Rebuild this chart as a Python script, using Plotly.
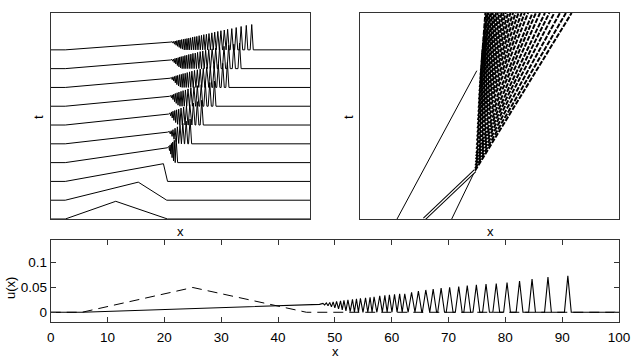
import plotly.graph_objects as go

# ---------------- data ----------------
x_ticks = [0, 10, 20, 30, 40, 50, 60, 70, 80, 90, 100]
u_ticks = [0, 0.05, 0.1]
u_tick_text = ["0", "0.05", "0.1"]

ramp_start = 5.5

# initial condition (dashed, bottom) and first stacked profile
init_x = [0, 5.5, 25, 45, 100]
init_u = [0, 0, 0.05, 0, 0]

prof1_x = [0, 5.5, 33.7, 44.7, 100]
prof1_u = [0, 0, 0.051, 0, 0]
prof2_x = [0, 5.5, 43.4, 45.0, 100]
prof2_u = [0, 0, 0.050, 0, 0]

# oscillatory profiles: ramp tip, peak positions / heights, trough heights
p3_tip = (45.0, 0.042)
p3_pk_x = [45.5, 46.0, 46.5, 47.0, 47.6, 48.3]
p3_pk_u = [0.046, 0.050, 0.054, 0.058, 0.063, 0.069]
p3_tr_u = [0.034, 0.024, 0.014, 0.005]

p4_tip = (45.0, 0.033)
p4_pk_x = [45.7, 46.4, 47.1, 47.9, 48.8, 49.8, 50.9, 52.2, 53.7]
p4_pk_u = [0.035, 0.037, 0.040, 0.044, 0.048, 0.053, 0.058, 0.064, 0.070]
p4_tr_u = [0.028, 0.021, 0.013, 0.006, 0.001]

p5_tip = (45.4, 0.031)
p5_pk_x = [45.9, 46.5, 47.1, 47.8, 48.5, 49.3, 50.2, 51.2, 52.3, 53.6, 55.0, 56.5, 58.2]
p5_pk_u = [0.034, 0.037, 0.039, 0.041, 0.043, 0.045, 0.048, 0.051, 0.054, 0.058, 0.062, 0.066, 0.070]
p5_tr_u = [0.026, 0.020, 0.013, 0.007, 0.002]

p6_tip = (45.7, 0.028)
p6_pk_x = [46.2, 46.8, 47.4, 48.0, 48.7, 49.4, 50.2, 51.0, 51.9, 52.9, 54.0, 55.2, 56.5, 58.0, 59.6, 61.3, 63.1]
p6_pk_u = [0.030, 0.032, 0.034, 0.036, 0.038, 0.040, 0.042, 0.044, 0.046, 0.049, 0.052, 0.055, 0.058, 0.061, 0.064, 0.067, 0.071]
p6_tr_u = [0.024, 0.019, 0.013, 0.008, 0.003]

p7_tip = (46.0, 0.026)
p7_pk_x = [46.5, 47.1, 47.7, 48.3, 48.9, 49.6, 50.3, 51.0, 51.8, 52.6, 53.5, 54.4, 55.4, 56.5, 57.6, 58.8, 60.1, 61.5, 63.0, 64.6, 66.3, 68.1]
p7_pk_u = [0.028, 0.030, 0.031, 0.033, 0.034, 0.036, 0.037, 0.039, 0.040, 0.042, 0.044, 0.046, 0.048, 0.050, 0.052, 0.054, 0.057, 0.059, 0.062, 0.065, 0.068, 0.071]
p7_tr_u = [0.022, 0.018, 0.013, 0.008, 0.004, 0.001]

p8_tip = (46.2, 0.0245)
p8_pk_x = [46.7, 47.3, 47.9, 48.5, 49.1, 49.7, 50.3, 51.0, 51.7, 52.4, 53.2, 54.0, 54.8, 55.7, 56.6, 57.6, 58.6, 59.7, 60.9, 62.2, 63.6, 65.1, 66.8, 68.6, 70.6, 72.8]
p8_pk_u = [0.026, 0.027, 0.029, 0.030, 0.031, 0.033, 0.034, 0.035, 0.037, 0.038, 0.040, 0.041, 0.043, 0.044, 0.046, 0.048, 0.050, 0.052, 0.054, 0.056, 0.058, 0.060, 0.063, 0.066, 0.069, 0.072]
p8_tr_u = [0.021, 0.017, 0.013, 0.009, 0.005, 0.002]

p9_tip = (46.3, 0.022)
p9_pk_x = [46.8, 47.4, 48.0, 48.6, 49.2, 49.8, 50.4, 51.1, 51.8, 52.5, 53.2, 53.9, 54.7, 55.5, 56.3, 57.2, 58.1, 59.0, 60.0, 61.0, 62.1, 63.2, 64.4, 65.6, 66.9, 68.2, 69.8, 71.5, 73.4, 75.4, 77.5]
p9_pk_u = [0.023, 0.024, 0.025, 0.026, 0.027, 0.028, 0.029, 0.030, 0.031, 0.032, 0.033, 0.034, 0.036, 0.037, 0.038, 0.040, 0.041, 0.043, 0.044, 0.046, 0.048, 0.050, 0.052, 0.054, 0.056, 0.058, 0.060, 0.063, 0.066, 0.069, 0.0715]
p9_tr_u = [0.019, 0.016, 0.013, 0.010, 0.007, 0.004, 0.002]

# final profile (bottom panel, solid)
fin_tip = (47.3, 0.016)
fin_pk_x = [47.9, 48.5, 49.1, 49.7, 50.3, 51.0, 51.6, 52.3, 53.1, 53.8, 54.5, 55.4, 56.2, 56.9, 57.9, 58.8, 59.6, 60.5, 61.4, 62.3, 63.5, 64.7, 66.0, 67.3, 68.7, 70.2, 71.8, 73.3, 74.9, 76.6, 78.4, 80.3, 82.5, 84.7, 87.5, 91.0]
fin_pk_u = [0.018, 0.019, 0.020, 0.021, 0.022, 0.023, 0.024, 0.025, 0.026, 0.027, 0.028, 0.029, 0.030, 0.031, 0.033, 0.034, 0.035, 0.036, 0.037, 0.037, 0.040, 0.0425, 0.045, 0.0466, 0.0486, 0.0506, 0.052, 0.054, 0.0553, 0.0567, 0.058, 0.060, 0.063, 0.067, 0.071, 0.0735]
fin_tr_u = [0.015, 0.013, 0.011, 0.009, 0.007, 0.005, 0.003, 0.0015, 0.0005]

# x-t diagram (top right): straight trajectories
left_line_x = [14.3, 45.1]
left_line_t = [0.0, 0.72]
right_line_x = [35.4, 44.4]
right_line_t = [0.0, 0.234]
band_x = [24.8, 44.4]
band_t = [0.0, 0.234]

fan_t0 = [0.234, 0.245, 0.26, 0.275, 0.29, 0.305, 0.32, 0.34, 0.36, 0.38, 0.40, 0.42, 0.44, 0.46, 0.48, 0.50,
          0.52, 0.54, 0.56, 0.58, 0.60, 0.62, 0.64, 0.66, 0.68, 0.70, 0.72, 0.74, 0.76, 0.78, 0.80]
fan_x0 = [44.4, 44.45, 44.55, 44.65, 44.75, 44.8, 44.9, 44.95, 45.05, 45.1, 45.2, 45.3, 45.35, 45.45, 45.5, 45.6,
          45.7, 45.75, 45.85, 45.9, 46.0, 46.1, 46.2, 46.3, 46.4, 46.5, 46.65, 46.8, 46.9, 47.05, 47.2]
fan_x1 = [81.7, 79.5, 77.2, 75.0, 73.1, 71.4, 69.5, 67.9, 66.6, 64.9, 63.6, 62.4, 61.2, 60.1, 59.1, 58.1,
          57.2, 56.3, 55.5, 54.7, 53.9, 53.2, 52.5, 51.9, 51.3, 50.7, 50.2, 49.7, 49.2, 48.8, 48.4]
fan_t1 = 1.0

# ---------------- helpers ----------------
PEAK_HALF_WIDTH = 0.6
STACK_STEP = 0.0531


def wave(tip, pk_x, pk_u, tr_u, w=PEAK_HALF_WIDTH):
    xs = [0, ramp_start, tip[0]]
    us = [0, 0, tip[1]]
    tr = list(tr_u) + [0] * len(pk_x)
    n = len(pk_x)
    for i in range(n):
        xs.append(pk_x[i])
        us.append(pk_u[i])
        if i < n - 1:
            a, b, v = pk_x[i], pk_x[i + 1], tr[i]
            if b - a > 2 * w:
                xs += [a + w, b - w]
                us += [v, v]
            else:
                xs.append((a + b) / 2)
                us.append(v)
    xs += [pk_x[-1] + w, 100]
    us += [0, 0]
    return xs, us


FONT = "Liberation Sans, Arial, sans-serif"
fig = go.Figure()

# ---- top-left stacked profiles ----
stack = [(init_x, init_u), (prof1_x, prof1_u), (prof2_x, prof2_u)]
for tip, px_, pu_, tr_ in [(p3_tip, p3_pk_x, p3_pk_u, p3_tr_u), (p4_tip, p4_pk_x, p4_pk_u, p4_tr_u),
                           (p5_tip, p5_pk_x, p5_pk_u, p5_tr_u), (p6_tip, p6_pk_x, p6_pk_u, p6_tr_u),
                           (p7_tip, p7_pk_x, p7_pk_u, p7_tr_u), (p8_tip, p8_pk_x, p8_pk_u, p8_tr_u),
                           (p9_tip, p9_pk_x, p9_pk_u, p9_tr_u)]:
    stack.append(wave(tip, px_, pu_, tr_))

for k, (xs, us) in enumerate(stack):
    fig.add_trace(go.Scatter(x=xs, y=[u + k * STACK_STEP for u in us], mode="lines",
                             line=dict(color="black", width=1), xaxis="x", yaxis="y",
                             showlegend=False, hoverinfo="skip"))

# ---- top-right x-t diagram ----
for x0, t0, x1 in zip(fan_x0, fan_t0, fan_x1):
    fig.add_trace(go.Scatter(x=[x0, x1], y=[t0, fan_t1], mode="lines",
                             line=dict(color="black", width=2, dash="5px,1.5px"),
                             xaxis="x2", yaxis="y2", showlegend=False, hoverinfo="skip"))
fig.add_trace(go.Scatter(x=left_line_x, y=left_line_t, mode="lines", line=dict(color="black", width=1),
                         xaxis="x2", yaxis="y2", showlegend=False, hoverinfo="skip"))
fig.add_trace(go.Scatter(x=right_line_x, y=right_line_t, mode="lines", line=dict(color="black", width=1),
                         xaxis="x2", yaxis="y2", showlegend=False, hoverinfo="skip"))
fig.add_trace(go.Scatter(x=band_x, y=band_t, mode="lines", line=dict(color="black", width=3.4),
                         xaxis="x2", yaxis="y2", showlegend=False, hoverinfo="skip"))
fig.add_trace(go.Scatter(x=band_x, y=band_t, mode="lines", line=dict(color="white", width=1.4),
                         xaxis="x2", yaxis="y2", showlegend=False, hoverinfo="skip"))

# ---- bottom panel ----
fin_x, fin_u = wave(fin_tip, fin_pk_x, fin_pk_u, fin_tr_u)
fig.add_trace(go.Scatter(x=init_x, y=init_u, mode="lines",
                         line=dict(color="black", width=1, dash="10px,6px"),
                         xaxis="x3", yaxis="y3", showlegend=False, hoverinfo="skip"))
fig.add_trace(go.Scatter(x=fin_x, y=fin_u, mode="lines", line=dict(color="black", width=1.1),
                         xaxis="x3", yaxis="y3", showlegend=False, hoverinfo="skip"))

W, H = 636, 360
frame = dict(showline=True, linecolor="#333", linewidth=1, showgrid=False, zeroline=False, automargin=False)
top_y = [1 - 219 / H, 1 - 13 / H]
tick_font = dict(family=FONT, size=13.5, color="black")

fig.update_layout(
    width=W, height=H, margin=dict(l=0, r=0, t=0, b=0, autoexpand=False),
    paper_bgcolor="white", plot_bgcolor="white",
    font=dict(family=FONT, size=13, color="black"),
    xaxis=dict(domain=[51 / W, 310 / W], range=[0, 100], anchor="y", showticklabels=False, ticks="",
               mirror=True, **frame),
    yaxis=dict(domain=top_y, range=[0, 0.582], anchor="x", showticklabels=False, ticks="",
               mirror=True, **frame),
    xaxis2=dict(domain=[360 / W, 619 / W], range=[0, 100], anchor="y2", showticklabels=False, ticks="",
                mirror=True, **frame),
    yaxis2=dict(domain=top_y, range=[0, 1], anchor="x2", showticklabels=False, ticks="",
                mirror=True, **frame),
    xaxis3=dict(domain=[50.7 / W, 619 / W], range=[0, 100], anchor="y3", tickvals=x_ticks,
                ticks="inside", ticklen=5, tickcolor="#333", mirror="ticks", tickfont=tick_font,
                ticklabelstandoff=3, **frame),
    yaxis3=dict(domain=[1 - 322 / H, 1 - 240 / H], range=[-0.0196, 0.1458], anchor="x3",
                tickvals=u_ticks, ticktext=u_tick_text, ticks="inside", ticklen=5, tickcolor="#333",
                mirror="ticks", tickfont=tick_font, **frame),
)

ann = dict(xref="paper", yref="paper", showarrow=False, xanchor="center", yanchor="middle",
           font=dict(family=FONT, size=13, color="black"))
fig.add_annotation(text="x", x=180 / W, y=1 - 231 / H, **ann)
fig.add_annotation(text="x", x=490 / W, y=1 - 231 / H, **ann)
fig.add_annotation(text="t", x=39 / W, y=1 - 117 / H, textangle=-90, **ann)
fig.add_annotation(text="t", x=349 / W, y=1 - 117 / H, textangle=-90, **ann)
fig.add_annotation(text="x", x=335 / W, y=1 - 351 / H, **ann)
fig.add_annotation(text="u(x)", x=10 / W, y=1 - 288 / H, textangle=-90, **ann)

fig.write_html("out.html", config={"displayModeBar": False},
               post_script="document.body.style.margin='0';document.body.style.padding='0';"
                           "document.body.style.overflow='hidden';")
